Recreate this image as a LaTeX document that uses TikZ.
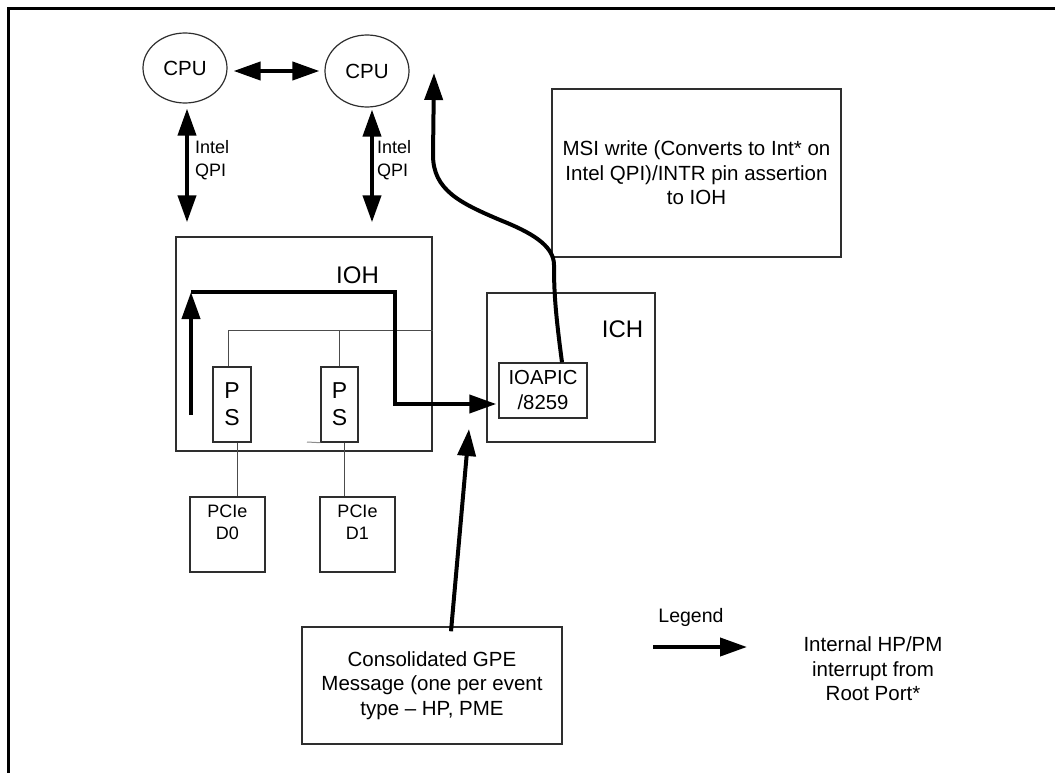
\documentclass[tikz,border=0pt]{standalone}
\usepackage{fontspec}
\setmainfont{Liberation Sans}
\usetikzlibrary{arrows.meta,shapes.geometric}
\definecolor{boxc}{gray}{0.18}
\definecolor{busc}{gray}{0.30}
\definecolor{stubc}{gray}{0.55}
\begin{document}
\begin{tikzpicture}[x=1pt,y=-1pt,
  box/.style={draw=boxc,line width=1.4pt,rectangle,inner sep=0pt,align=center},
  ell/.style={draw=boxc,line width=1.2pt,ellipse,inner sep=0pt},
  thk/.style={line width=4pt,-{Triangle[length=27pt,width=18pt]}},
  dbl/.style={line width=4pt,{Triangle[length=27pt,width=18pt]}-{Triangle[length=27pt,width=18pt]}},
  bus/.style={draw=busc,line width=1pt},
  lbl/.style={inner sep=0pt,align=center},
  fmain/.style={font=\fontsize{20.5}{24.5}\selectfont},
  fbig/.style={font=\fontsize{24}{28}\selectfont},
  fsmall/.style={font=\fontsize{18}{23}\selectfont}]
\useasboundingbox (0,0) rectangle (1055,773);

% outer frame (top and left only)
\draw[line width=2.7pt] (8.7,773) -- (8.7,8.7) -- (1055,8.7);

% CPUs
\node[ell,minimum width=84pt,minimum height=70pt,fmain] (cpu1) at (185,68) {CPU};
\node[ell,minimum width=84pt,minimum height=72pt,fmain] (cpu2) at (367,71) {CPU};

% IOH
\node[box,minimum width=256pt,minimum height=214pt] (ioh) at (304,344) {};
\node[lbl,fbig] (iohtxt) at (357.5,275) {IOH};

% PS boxes
\node[box,minimum width=38pt,minimum height=75pt,font=\fontsize{23}{27}\selectfont] (ps1) at (232,404.5) {P\\S};
\node[box,minimum width=37pt,minimum height=75pt,font=\fontsize{23}{27}\selectfont] (ps2) at (339.5,404.5) {P\\S};

% PCIe devices
\node[box,minimum width=75pt,minimum height=75pt] (d0) at (227.5,534.5) {};
\node[lbl,font=\fontsize{18}{21.6}\selectfont] (d0txt) at (227.5,522.5) {PCIe\\D0};
\node[box,minimum width=75pt,minimum height=75pt] (d1) at (357.5,534.5) {};
\node[lbl,font=\fontsize{18}{21.6}\selectfont] (d1txt) at (357.5,522.5) {PCIe\\D1};

% ICH and IOAPIC
\node[box,minimum width=168pt,minimum height=149pt] (ich) at (571,367.5) {};
\node[lbl,fbig] (ichtxt) at (622.5,329) {ICH};
\node[box,minimum width=88pt,minimum height=55pt,font=\fontsize{20.3}{25}\selectfont] (ioapic) at (543,390.5) {IOAPIC\\/8259};

% MSI note
\node[box,minimum width=289pt,minimum height=168pt,fmain] (msi) at (696.5,173) {MSI write (Converts to Int* on\\Intel QPI)/INTR pin assertion\\to IOH};

% GPE message
\node[box,minimum width=260pt,minimum height=117pt,fmain] (gpe) at (432,685.5) {Consolidated GPE\\Message (one per event\\type – HP, PME};

% Legend
\node[lbl,font=\fontsize{19.5}{23}\selectfont] (legend) at (691,617) {Legend};
\node[lbl,fmain] (legtxt) at (873,669) {Internal HP/PM\\interrupt from\\Root Port*};
\coordinate (la) at (653,647);
\coordinate (lb) at (747,647);
\draw[thk] (la) -- (lb);

% QPI labels
\node[lbl,fsmall,anchor=west,align=left] (qpi1) at (195,160) {Intel\\QPI};
\node[lbl,fsmall,anchor=west,align=left] (qpi2) at (377,160) {Intel\\QPI};

% CPU links
\draw[dbl,shorten <=6pt,shorten >=5pt] ([yshift=-3pt]cpu1.east) -- (cpu2.west);
\draw[dbl,shorten <=5pt,shorten >=14pt] ([xshift=2pt]cpu1.south) -- ([xshift=2pt]cpu1.south |- ioh.north);
\draw[dbl,shorten <=2pt,shorten >=14pt] ([xshift=5pt]cpu2.south) -- ([xshift=5pt]cpu2.south |- ioh.north);

% internal bus
\coordinate (busy) at (0,330);
\draw[bus] ([xshift=-4pt]ps1.north) |- (ioh.east |- busy);
\draw[bus] (ps2.north) -- (ps2.north |- busy);
\draw[bus] ([xshift=5pt]ps1.south) -- ([xshift=5pt]ps1.south |- d0.north);
\draw[bus] ([xshift=4.5pt]ps2.south) -- ([xshift=4.5pt]ps2.south |- d1.north);
\coordinate (stub) at (307,442);
\draw[draw=stubc,line width=1pt] (stub) -- (ps2.south west);

% internal HP/PM interrupt path
\coordinate (p1) at (191,415);
\coordinate (p2) at (191,292);
\coordinate (p3) at (395,292);
\draw[thk] (p1) -- (p2);
\draw[thk] (p2) -- (p3) |- ([xshift=-2pt,yshift=-13.5pt]ioapic.west);

% GPE to ICH
\coordinate (g1) at (469,429);
\draw[thk] ([xshift=19pt,yshift=-5pt]gpe.north) -- (g1);

% MSI write up to CPU
\coordinate (ctip) at (434,73);
\draw[thk] ([xshift=19pt]ioapic.north) .. controls (555,310) and (554,290) .. (554,265)
  .. controls (554,245) and (530,232) .. (500,220)
  .. controls (460,203) and (433,190) .. (433,155) -- (ctip);
\end{tikzpicture}
\end{document}
